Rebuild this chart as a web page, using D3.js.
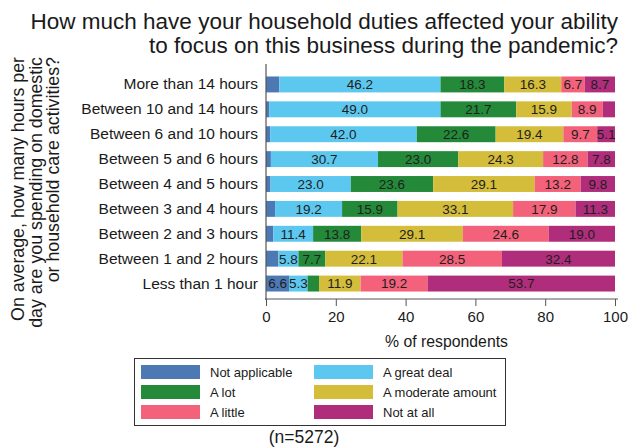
<!DOCTYPE html>
<html><head><meta charset="utf-8">
<script src="https://cdn.jsdelivr.net/npm/d3@7"></script>
<style>body{margin:0;background:#fff}svg{display:block;font-family:"Liberation Sans",Arial,sans-serif}</style>
</head><body><svg id="c" width="631" height="447"></svg>
<script>
const categories = ["More than 14 hours","Between 10 and 14 hours","Between 6 and 10 hours","Between 5 and 6 hours","Between 4 and 5 hours","Between 3 and 4 hours","Between 2 and 3 hours","Between 1 and 2 hours","Less than 1 hour"];
const seriesNames = ["Not applicable","A great deal","A lot","A moderate amount","A little","Not at all"];
const notApplicable = [3.8,1.0,1.2,1.4,1.3,2.6,2.1,3.5,6.6];
const greatDeal     = [46.2,49.0,42.0,30.7,23.0,19.2,11.4,5.8,5.3];
const aLot          = [18.3,21.7,22.6,23.0,23.6,15.9,13.8,7.7,3.3];
const moderate      = [16.3,15.9,19.4,24.3,29.1,33.1,29.1,22.1,11.9];
const aLittle       = [6.7,8.9,9.7,12.8,13.2,17.9,24.6,28.5,19.2];
const notAtAll      = [8.7,3.5,5.1,7.8,9.8,11.3,19.0,32.4,53.7];
const xTicks = [0,20,40,60,80,100];
const colors = ["#4c78b4","#5cc8ef","#248a3a","#d3bd3b","#f3627a","#b02d7c"];

const seriesVals = [notApplicable,greatDeal,aLot,moderate,aLittle,notAtAll];
const rows = categories.map((c,i)=>{const o={cat:c};seriesNames.forEach((s,j)=>o[s]=seriesVals[j][i]);return o;});
const stacked = d3.stack().keys(seriesNames)(rows);

const svg = d3.select("#c");
const pL=266,pR=615,pT=72,pB=296;
const x = d3.scaleLinear().domain([0,100]).range([pL,pR]);
const y = d3.scaleBand().domain(categories).range([pT,pB]).paddingInner(0.36).paddingOuter(0.18);
const color = d3.scaleOrdinal().domain(seriesNames).range(colors);

// title
const t = svg.append("text").attr("text-anchor","end").attr("font-size",22.5).attr("fill","#1a1a1a");
t.append("tspan").attr("x",618).attr("y",29).text("How much have your household duties affected your ability");
t.append("tspan").attr("x",618).attr("y",53).text("to focus on this business during the pandemic?");

// bars
const g = svg.append("g");
stacked.forEach(s=>{
  g.selectAll(null).data(s).join("rect")
   .attr("x",d=>x(d[0])).attr("width",d=>x(d[1])-x(d[0]))
   .attr("y",d=>y(d.data.cat)).attr("height",y.bandwidth())
   .attr("fill",color(s.key));
  g.selectAll(null).data(s.filter(d=>d[1]-d[0]>=5)).join("text")
   .attr("x",d=>x((d[0]+d[1])/2)).attr("y",d=>y(d.data.cat)+y.bandwidth()/2)
   .attr("dy","0.36em").attr("text-anchor","middle").attr("font-size",13.5).attr("fill","#1e1e1e")
   .text(d=>(d[1]-d[0]).toFixed(1));
});

// y axis
const ya = svg.append("g").attr("transform",`translate(${pL},0)`)
  .call(d3.axisLeft(y).tickSize(0).tickPadding(8));
ya.select(".domain").remove();
ya.selectAll("text").attr("font-size",15.5).attr("fill","#1a1a1a").attr("font-family","Liberation Sans,Arial,sans-serif");
svg.append("line").attr("x1",pL).attr("x2",pL).attr("y1",64).attr("y2",300).attr("stroke","#555").attr("stroke-width",1.2);

// x axis
const xa = svg.append("g").attr("transform",`translate(0,299)`)
  .call(d3.axisBottom(x).tickValues(xTicks).tickSize(7).tickPadding(5));
xa.select(".domain").attr("stroke","#555").attr("d",`M${pL-1},0H${pR+3}`);
xa.selectAll("line").attr("stroke","#555");
xa.selectAll("text").attr("font-size",15).attr("fill","#1a1a1a").attr("font-family","Liberation Sans,Arial,sans-serif");
svg.append("text").attr("x",(pL+pR)/2+6).attr("y",347).attr("text-anchor","middle").attr("font-size",15.8).attr("fill","#1a1a1a").text("% of respondents");

// y title
const yt = svg.append("text").attr("transform","rotate(-90)").attr("text-anchor","end").attr("font-size",17.8).attr("fill","#1a1a1a");
["On average, how many hours per","day are you spending on domestic","or household care activities?"].forEach((l,i)=>{
  yt.append("tspan").attr("x",-57).attr("y",24+i*17.5).text(l);
});

// legend
svg.append("rect").attr("x",134.5).attr("y",358.5).attr("width",371).attr("height",67).attr("fill","#fff").attr("stroke","#333");
seriesNames.forEach((s,i)=>{
  const col=i%2,row=Math.floor(i/2);
  const lx=col?314:141, ly=365+row*20;
  svg.append("rect").attr("x",lx).attr("y",ly).attr("width",59).attr("height",14).attr("fill",color(s));
  svg.append("text").attr("x",lx+69).attr("y",ly+7).attr("dy","0.36em").attr("font-size",13).attr("fill","#1a1a1a").text(s);
});
svg.append("text").attr("x",304).attr("y",437).attr("dy","0.36em").attr("text-anchor","middle").attr("font-size",17.5).attr("fill","#1a1a1a").text("(n=5272)");
</script></body></html>
